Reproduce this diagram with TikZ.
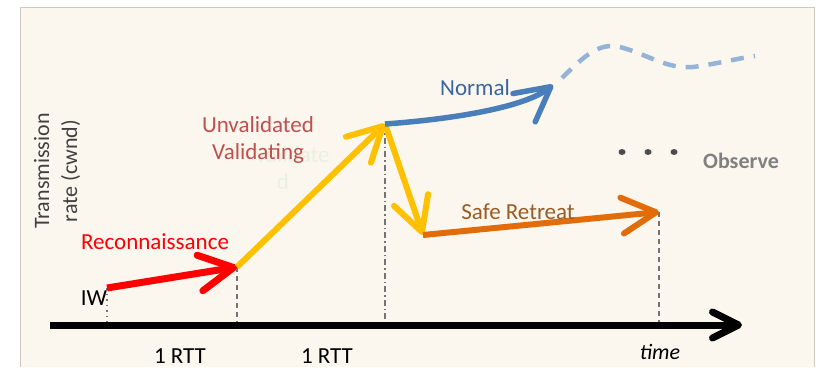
\documentclass[tikz,border=0pt]{standalone}
\usepackage{fontspec}
\setmainfont{Carlito}
\usetikzlibrary{arrows.meta}
\definecolor{bgcream}{HTML}{FBF7EF}
\definecolor{framegray}{HTML}{CFC9C2}
\definecolor{reconred}{HTML}{FF0000}
\definecolor{valyellow}{HTML}{FFC000}
\definecolor{normblue}{HTML}{4A7EBB}
\definecolor{lightblue}{HTML}{95B3D7}
\definecolor{retreatorange}{HTML}{E36C0A}
\definecolor{unvalred}{HTML}{C0504D}
\definecolor{normtext}{HTML}{3A65A0}
\definecolor{retreattext}{HTML}{9A5B24}
\definecolor{ghostgreen}{HTML}{EAF0E0}
\tikzset{
	phase/.style={line width=#1, -{Straight Barb[length=34pt,width=36pt,round]}},
	guide/.style={gray!90!black, line width=1.8pt},
}

\begin{document}
\begin{tikzpicture}[x=1pt,y=-1pt]
		\tikzstyle{every node}=[font=\fontsize{23}{28}\selectfont]
		\useasboundingbox (0,0) rectangle (818,367);
		% Draw background panel
		\fill[bgcream] (20,7) rectangle (814,367);
		\draw[framegray, line width=1pt] (20,367) -- (20,7) -- (814,7) -- (814,367);

		% key points of the rate curve
		\coordinate (iw) at (107,288);
		\coordinate (rec) at (237,267);
		\coordinate (peak) at (385,124);
		\coordinate (low) at (423,235);
		\coordinate (safe) at (659,212);
		\coordinate (norm) at (553,85);
		\coordinate (axstart) at (50,325);
		\coordinate (axend) at (742,325);

		% vertical guides down to the time axis
		\draw[guide, dash pattern=on 1.5pt off 4pt] (iw) -- (iw |- axstart);
		\draw[guide, dash pattern=on 5pt off 4pt] (rec) -- (rec |- axstart);
		\draw[guide, dash pattern=on 6pt off 3pt on 1.5pt off 3pt] (peak) -- (peak |- axstart);
		\draw[guide, dash pattern=on 5pt off 4pt] (safe) -- (safe |- axstart);

		% time axis
		\draw[line width=7pt, -{Straight Barb[length=26pt,width=26pt,round]}] (axstart) -- (axend);

		% -----------------------------------------------------
		\node[ghostgreen] (ghost) at (292,155) {Validate};
		\node[ghostgreen] (ghostd) at (283,182) {d};

		\draw[phase=7pt, reconred] (iw) -- (rec);
		\draw[phase=6pt, valyellow] (rec) -- (peak);
		\draw[phase=6pt, valyellow] (peak) -- (low);
		\draw[phase=6pt, retreatorange] (low) -- (safe);
		\draw[phase=5.5pt, normblue] (peak) .. controls (455,119) and (525,107) .. (norm);
		\draw[lightblue, line width=4.5pt, dash pattern=on 13pt off 10pt] (562,78) .. controls (585,55) and (600,42) .. (620,47) .. controls (650,55) and (670,72) .. (700,66) .. controls (720,63) and (740,58) .. (755,56);

		% observe dots
		\foreach \x in {622,648,674}
			\fill[black!70] (\x,152) ellipse (3.5pt and 3pt);

		% -----------------------------------------------------
		\node[black!75, rotate=90, align=center, font=\fontsize{22}{28}\selectfont] (ylabel) at (57,171) {Transmission\\rate (cwnd)};
		\node[black] (iwlabel) at (94,298) {IW};
		\node[reconred] (reclabel) at (155,242) {Reconnaissance};
		\node[unvalred] (unval) at (258,125) {Unvalidated};
		\node[unvalred] (valid) at (258,153) {Validating};
		\node[normtext] (normlabel) at (475,88) {Normal};
		\node[retreattext] (safelabel) at (518,212) {Safe Retreat};
		\node[black!50, font=\fontsize{22}{27}\selectfont\bfseries] (obs) at (741,161) {Observe};
		\node[black] (rtt1) at (180,356) {1 RTT};
		\node[black] (rtt2) at (327,356) {1 RTT};
		\node[black, font=\fontsize{22}{27}\selectfont\itshape] (time) at (660,352) {time};

		\end{tikzpicture}
\end{document}
